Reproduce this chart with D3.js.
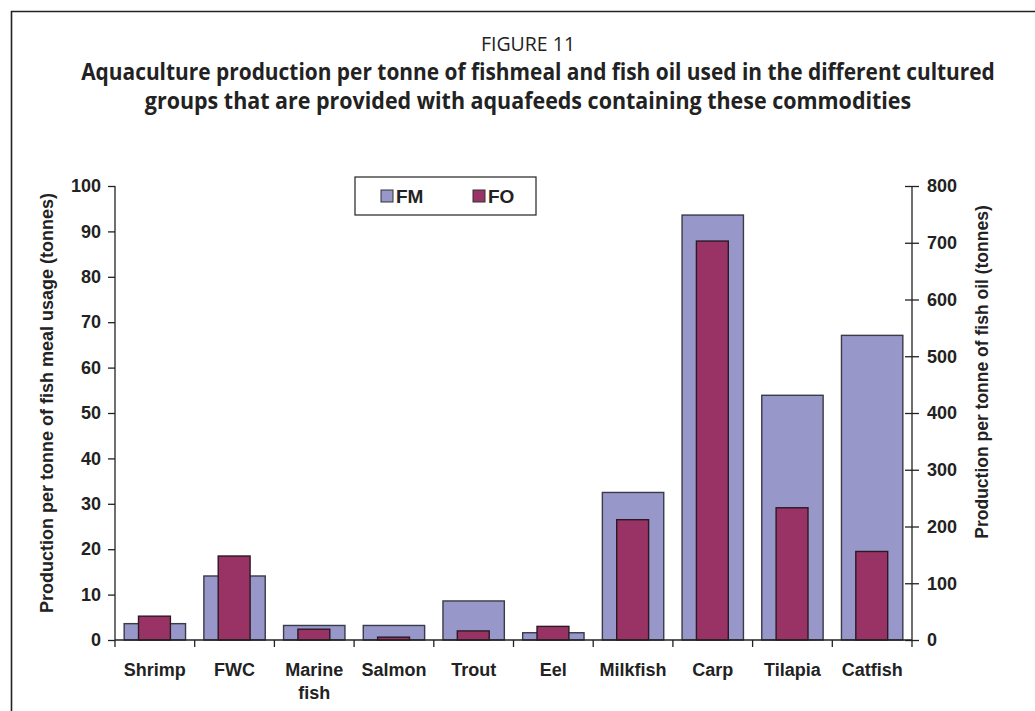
<!DOCTYPE html>
<html><head><meta charset="utf-8">
<script src="https://cdn.jsdelivr.net/npm/d3@7"></script>
<style>
html,body{margin:0;padding:0;background:#fff;}
svg{display:block;}
</style></head>
<body>
<svg id="chart" width="1035" height="711"></svg>
<script>
const categories = ["Shrimp","FWC","Marine fish","Salmon","Trout","Eel","Milkfish","Carp","Tilapia","Catfish"];
const fmValues = [3.6, 14.1, 3.2, 3.2, 8.6, 1.6, 32.5, 93.6, 53.9, 67.1];
const foValues = [42, 148, 19, 5, 16, 24, 212, 703, 233, 156];
const leftTicks = [0,10,20,30,40,50,60,70,80,90,100];
const rightTicks = [0,100,200,300,400,500,600,700,800];
const seriesNames = ["FM","FO"];
const colors = {FM:"#9797C9", FO:"#993366"};

const svg = d3.select("#chart");
const FONT = "'Liberation Sans', Arial, sans-serif";
const TFONT = "'Open Sans', 'Noto Sans', sans-serif";

// frame
svg.append("path").attr("d","M11.5,711 L11.5,11.5 L1035,11.5")
  .attr("fill","none").attr("stroke","#222").attr("stroke-width",1.6);

// titles
svg.append("text").attr("x",528).attr("y",51).attr("text-anchor","middle")
  .attr("font-family",TFONT).attr("font-size",19.5).attr("fill","#222").text("FIGURE 11");
function fitText(txt, cx, y, w, size){
  const t = svg.append("text").attr("font-family",TFONT).attr("font-weight","bold")
    .attr("font-size",size).attr("fill","#222").attr("text-anchor","middle").text(txt);
  const len = t.node().getComputedTextLength();
  const s = w/len;
  t.attr("transform",`translate(${cx},${y}) scale(${s},1)`);
}
fitText("Aquaculture production per tonne of fishmeal and fish oil used in the different cultured", 538, 80, 914, 22.5);
fitText("groups that are provided with aquafeeds containing these commodities", 528, 109, 767, 22.5);

const x = d3.scaleBand().domain(categories).range([115,912]);
const yL = d3.scaleLinear().domain([0,100]).range([640,186]);
const yR = d3.scaleLinear().domain([0,800]).range([640,186]);

// FM bars
svg.append("g").selectAll("rect").data(categories).join("rect")
  .attr("x",d=>x(d)+x.bandwidth()*0.115)
  .attr("width",x.bandwidth()*0.77)
  .attr("y",(d,i)=>yL(fmValues[i]))
  .attr("height",(d,i)=>yL(0)-yL(fmValues[i]))
  .attr("fill",colors.FM).attr("stroke","#3a3a4a").attr("stroke-width",1.4);
// FO bars
svg.append("g").selectAll("rect").data(categories).join("rect")
  .attr("x",d=>x(d)+x.bandwidth()*0.295)
  .attr("width",x.bandwidth()*0.40)
  .attr("y",(d,i)=>yR(foValues[i]))
  .attr("height",(d,i)=>yR(0)-yR(foValues[i]))
  .attr("fill",colors.FO).attr("stroke","#2a1a22").attr("stroke-width",1.4);

// left axis
const gl = svg.append("g").attr("transform","translate(115,0)")
  .call(d3.axisLeft(yL).tickValues(leftTicks).tickSize(7).tickPadding(7));
gl.select(".domain").attr("d","M0,186V647").attr("stroke","#222").attr("stroke-width",1.3);
gl.selectAll(".tick line").attr("stroke","#222").attr("stroke-width",1.3);
gl.selectAll(".tick text").attr("font-family",FONT).attr("font-weight","bold")
  .attr("font-size",18).attr("fill","#222");

// right axis
const gr = svg.append("g").attr("transform","translate(912,0)")
  .call(d3.axisRight(yR).tickValues(rightTicks).tickSize(7).tickPadding(8));
gr.select(".domain").attr("d","M0,186V647").attr("stroke","#222").attr("stroke-width",1.3);
gr.selectAll(".tick line").attr("x1",-7).attr("stroke","#222").attr("stroke-width",1.3);
gr.selectAll(".tick text").attr("font-family",FONT).attr("font-weight","bold")
  .attr("font-size",18).attr("fill","#222");

// bottom axis (category boundaries)
const gb = svg.append("g").attr("transform","translate(0,640)");
gb.append("line").attr("x1",115).attr("x2",912).attr("stroke","#222").attr("stroke-width",1.3);
gb.selectAll("line.t").data(categories.slice(1)).join("line").attr("class","t")
  .attr("x1",d=>x(d)).attr("x2",d=>x(d)).attr("y1",0).attr("y2",7)
  .attr("stroke","#222").attr("stroke-width",1.3);
gb.selectAll("text").data(categories).join("text")
  .attr("x",d=>x(d)+x.bandwidth()/2).attr("y",36)
  .attr("text-anchor","middle").attr("font-family",FONT).attr("font-weight","bold")
  .attr("font-size",18).attr("fill","#222")
  .each(function(d){
    const parts = d==="Marine fish" ? ["Marine","fish"] : [d];
    d3.select(this).selectAll("tspan").data(parts).join("tspan")
      .attr("x",x(d)+x.bandwidth()/2).attr("dy",(p,i)=>i?23:0).text(p=>p);
  });

// axis titles
svg.append("text").attr("transform","translate(53,403) rotate(-90)")
  .attr("text-anchor","middle").attr("font-family",FONT).attr("font-weight","bold")
  .attr("font-size",18).attr("fill","#222").text("Production per tonne of fish meal usage (tonnes)");
svg.append("text").attr("transform","translate(988,372) rotate(-90)")
  .attr("text-anchor","middle").attr("font-family",FONT).attr("font-weight","bold")
  .attr("font-size",17.5).attr("fill","#222").text("Production per tonne of fish oil (tonnes)");

// legend
const lg = svg.append("g");
lg.append("rect").attr("x",355).attr("y",177).attr("width",181).attr("height",38)
  .attr("fill","#fff").attr("stroke","#333").attr("stroke-width",1.3);
const lx = [381, 473];
seriesNames.forEach((s,i)=>{
  lg.append("rect").attr("x",lx[i]).attr("y",190).attr("width",12).attr("height",12)
    .attr("fill",colors[s]).attr("stroke","#333").attr("stroke-width",1);
  lg.append("text").attr("x",lx[i]+15).attr("y",203).attr("font-family",FONT)
    .attr("font-weight","bold").attr("font-size",19).attr("fill","#222").text(s);
});
</script>
</body></html>
